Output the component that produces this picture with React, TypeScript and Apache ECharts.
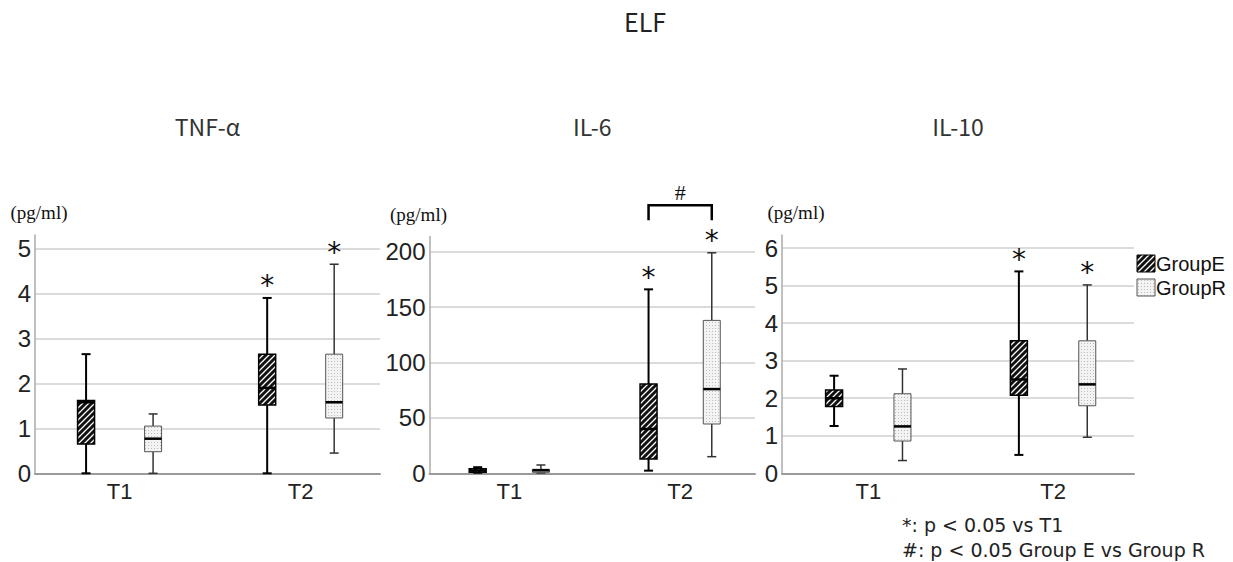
import React, { useEffect, useRef } from 'react';
import * as echarts from 'echarts';

// ---------- data ----------
const mainTitle = 'ELF';
const categories = ['T1', 'T2'];
const groupNames = ['GroupE', 'GroupR'];
const panelTitles = ['TNF-α', 'IL-6', 'IL-10'];
const yUnit = '(pg/ml)';
const yMaxList = [5.3, 213.7, 6.35];
const yIntervalList = [1, 50, 1];

// [min, Q1, median, Q3, max] for T1, T2
const tnfGroupE = [[0, 0.65, 1.58, 1.62, 2.65], [0, 1.52, 1.9, 2.65, 3.9]];
const tnfGroupR = [[0, 0.48, 0.77, 1.05, 1.32], [0.45, 1.23, 1.58, 2.65, 4.65]];
const il6GroupE = [[0.5, 1, 2.5, 4, 5.5], [2.4, 13, 40, 80.5, 166]];
const il6GroupR = [[0.3, 0.9, 2.7, 3.6, 7.5], [15, 44.5, 76, 138, 199]];
const il10GroupE = [[1.26, 1.78, 2.0, 2.22, 2.6], [0.49, 2.08, 2.5, 3.53, 5.38]];
const il10GroupR = [[0.34, 0.86, 1.25, 2.12, 2.78], [0.96, 1.8, 2.37, 3.53, 5.02]];

// significance vs T1 (*) per category
const sigVsT1 = [0, 1];
// significance Group E vs Group R (#): panel index, category index, bracket height
const bracketPanel = 1;
const bracketCategory = 1;
const bracketHeight = 242;
const bracketLabel = '#';

const footnotes = ['*: p < 0.05 vs T1', '#: p < 0.05 Group E vs Group R'];

// ---------- layout / style ----------
const panelStats = [
  [tnfGroupE, tnfGroupR],
  [il6GroupE, il6GroupR],
  [il10GroupE, il10GroupR],
];
const grids = [
  { left: 35, top: 235, width: 345, height: 238.3 },
  { left: 429.5, top: 236.5, width: 325.5, height: 236.8 },
  { left: 782, top: 235, width: 352, height: 238.3 },
];
const unitPadding = [
  [0, 0, 0, 8],
  [0, 22, 0, 0],
  [0, 0, 0, 28],
];
const X_MIN = 0.533;
const X_MAX = 2.438;
const GROUP_SHIFT = 0.185;

const svgUrl = (s: string) => 'data:image/svg+xml;charset=utf-8,' + encodeURIComponent(s);
const hatchPattern: any = {
  image: svgUrl(
    "<svg xmlns='http://www.w3.org/2000/svg' width='6' height='6'><rect width='6' height='6' fill='#111'/><path d='M-1,7 L7,-1 M-1,1 L1,-1 M5,7 L7,5' stroke='#fff' stroke-width='1.3'/></svg>"
  ),
  repeat: 'repeat',
  imageWidth: 6,
  imageHeight: 6,
};
const dotPattern: any = {
  image: svgUrl(
    "<svg xmlns='http://www.w3.org/2000/svg' width='3' height='3'><rect width='3' height='3' fill='#f3f3f3'/><rect x='1' y='1' width='1' height='1' fill='#bdbdbd'/></svg>"
  ),
  repeat: 'repeat',
  imageWidth: 3,
  imageHeight: 3,
};

const groupStyles = [
  { fill: hatchPattern, stroke: '#000', boxLine: 1.5, whisker: '#000', whiskerW: 2 },
  { fill: dotPattern, stroke: '#555', boxLine: 1, whisker: '#333', whiskerW: 1.5 },
];

const makeRenderItem = (gs: any) => (params: any, api: any) => {
  const x = api.value(0) as number;
  const v = [1, 2, 3, 4, 5].map((i) => api.value(i) as number);
  const sig = api.value(6);
  const pMin = api.coord([x, v[0]]);
  const cx = pMin[0];
  const yMin = pMin[1];
  const yQ1 = api.coord([x, v[1]])[1];
  const yMed = api.coord([x, v[2]])[1];
  const yQ3 = api.coord([x, v[3]])[1];
  const yMax = api.coord([x, v[4]])[1];
  const hw = 8.5;
  const cap = 4.5;
  const wStyle = { stroke: gs.whisker, lineWidth: gs.whiskerW };
  const children: any[] = [
    { type: 'line', shape: { x1: cx, y1: yMax, x2: cx, y2: yQ3 }, style: wStyle },
    { type: 'line', shape: { x1: cx, y1: yQ1, x2: cx, y2: yMin }, style: wStyle },
    { type: 'line', shape: { x1: cx - cap, y1: yMax, x2: cx + cap, y2: yMax }, style: wStyle },
    { type: 'line', shape: { x1: cx - cap, y1: yMin, x2: cx + cap, y2: yMin }, style: wStyle },
    {
      type: 'rect',
      shape: { x: cx - hw, y: yQ3, width: hw * 2, height: Math.max(yQ1 - yQ3, 1) },
      style: { fill: gs.fill, stroke: gs.stroke, lineWidth: gs.boxLine },
    },
    { type: 'line', shape: { x1: cx - hw, y1: yMed, x2: cx + hw, y2: yMed }, style: { stroke: '#000', lineWidth: 2.5 } },
  ];
  if (sig) {
    children.push({
      type: 'text',
      x: cx,
      y: yMax - 12,
      style: {
        text: '*',
        fontSize: 28,
        fontFamily: 'DejaVu Sans',
        fill: '#111',
        align: 'center',
        verticalAlign: 'middle',
      },
    });
  }
  return { type: 'group', children };
};

const renderBracket = (params: any, api: any) => {
  const p1 = api.coord([api.value(0), api.value(2)]);
  const p2 = api.coord([api.value(1), api.value(2)]);
  const leg = 15;
  return {
    type: 'group',
    children: [
      {
        type: 'polyline',
        shape: { points: [[p1[0], p1[1] + leg], [p1[0], p1[1]], [p2[0], p2[1]], [p2[0], p2[1] + leg]] },
        style: { stroke: '#000', lineWidth: 2.5, fill: 'none' },
      },
      {
        type: 'text',
        x: (p1[0] + p2[0]) / 2,
        y: p1[1] - 13,
        style: { text: bracketLabel, fontSize: 22, fontFamily: 'Liberation Serif', fill: '#111', align: 'center', verticalAlign: 'middle' },
      },
    ],
  };
};

function buildOption() {
  const grid: any[] = [];
  const xAxis: any[] = [];
  const yAxis: any[] = [];
  const series: any[] = [];
  const graphic: any[] = [];

  graphic.push({
    type: 'text',
    x: 645,
    y: 21,
    style: { text: mainTitle, fontSize: 25, fontFamily: 'Noto Sans CJK JP', fill: '#222', align: 'center', verticalAlign: 'middle' },
  });

  panelTitles.forEach((title, p) => {
    const g = grids[p];
    grid.push({ left: g.left, top: g.top, width: g.width, height: g.height });
    graphic.push({
      type: 'text',
      x: g.left + g.width / 2,
      y: 126,
      style: { text: title, fontSize: 23, fontFamily: 'Noto Sans CJK JP', fill: '#333', align: 'center', verticalAlign: 'middle' },
    });
    const interval = yIntervalList[p];
    xAxis.push({
      type: 'value',
      gridIndex: p,
      min: X_MIN,
      max: X_MAX,
      axisLine: { show: true, lineStyle: { color: '#9a9a9a', width: 2 } },
      axisTick: { show: false },
      splitLine: { show: false },
      axisLabel: {
        customValues: categories.map((_, i) => i + 1),
        formatter: (val: number) => categories[Math.round(val) - 1] ?? '',
        fontSize: 22,
        fontFamily: 'Liberation Sans',
        color: '#222',
        margin: 7,
      },
    });
    yAxis.push({
      type: 'value',
      gridIndex: p,
      min: 0,
      max: yMaxList[p],
      interval,
      name: yUnit,
      nameLocation: 'end',
      nameGap: 13,
      nameTextStyle: {
        fontFamily: 'Liberation Serif',
        fontSize: 19,
        color: '#111',
        align: 'center',
        verticalAlign: 'bottom',
        padding: unitPadding[p],
      },
      axisLine: { show: true, lineStyle: { color: '#ababab', width: 1.5 } },
      axisTick: { show: false },
      splitLine: { show: true, showMaxLine: false, lineStyle: { color: '#cfcfcf', width: 1.5 } },
      axisLabel: {
        fontSize: 24,
        fontFamily: 'Liberation Sans',
        color: '#222',
        margin: 4,
        padding: [7, 0, 0, 0],
        formatter: (val: number) => {
          const r = val / interval;
          return Math.abs(r - Math.round(r)) < 1e-6 ? String(val) : '';
        },
      },
    });

    panelStats[p].forEach((stats, gi) => {
      const shift = gi === 0 ? -GROUP_SHIFT : GROUP_SHIFT;
      const data = stats.map((s, ci) => [ci + 1 + shift, ...s, sigVsT1[ci]]);
      series.push({
        type: 'custom',
        name: groupNames[gi],
        xAxisIndex: p,
        yAxisIndex: p,
        clip: false,
        encode: { x: 0, y: [1, 2, 3, 4, 5] },
        data,
        renderItem: makeRenderItem(groupStyles[gi]),
        silent: true,
      });
    });

    if (p === bracketPanel) {
      const c = bracketCategory + 1;
      series.push({
        type: 'custom',
        name: 'bracket',
        xAxisIndex: p,
        yAxisIndex: p,
        clip: false,
        encode: { x: [0, 1], y: 2 },
        data: [[c - GROUP_SHIFT, c + GROUP_SHIFT, bracketHeight]],
        renderItem: renderBracket,
        silent: true,
      });
    }
  });

  // legend (drawn)
  const legendRows = [
    { y: 255, style: groupStyles[0] },
    { y: 279, style: groupStyles[1] },
  ];
  legendRows.forEach((row, i) => {
    graphic.push({
      type: 'rect',
      shape: { x: 1137, y: row.y, width: 18, height: 17 },
      style: { fill: row.style.fill, stroke: row.style.stroke, lineWidth: 1 },
    });
    graphic.push({
      type: 'text',
      x: 1156,
      y: row.y + 9,
      style: { text: groupNames[i], fontSize: 20, fontFamily: 'Liberation Sans', fill: '#111', align: 'left', verticalAlign: 'middle' },
    });
  });

  footnotes.forEach((t, i) => {
    graphic.push({
      type: 'text',
      x: 902,
      y: 525 + i * 25,
      style: { text: t, fontSize: 19, fontFamily: 'DejaVu Sans', fill: '#222', align: 'left', verticalAlign: 'middle' },
    });
  });

  return {
    animation: false,
    backgroundColor: '#fff',
    grid,
    xAxis,
    yAxis,
    series,
    graphic,
  };
}

export default function App() {
  const ref = useRef<HTMLDivElement>(null);
  useEffect(() => {
    document.body.style.margin = '0';
    const chart = echarts.init(ref.current as HTMLDivElement, undefined, { renderer: 'svg' });
    chart.setOption(buildOption() as any);
    return () => chart.dispose();
  }, []);
  return <div ref={ref} style={{ width: 1233, height: 562 }} />;
}
